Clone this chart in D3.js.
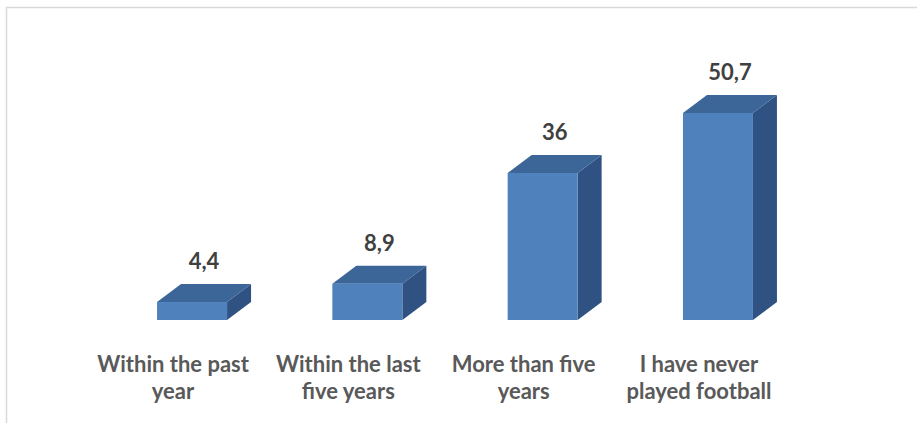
<!DOCTYPE html>
<html>
<head>
<meta charset="utf-8">
<script src="https://cdn.jsdelivr.net/npm/d3@7"></script>
<style>
  html, body { margin: 0; padding: 0; background: #fff; }
  svg { display: block; }
</style>
</head>
<body>
<svg id="chart" width="917" height="423"></svg>
<script>
// Share of respondents by when they last played football (%)
const categories = [
  "Within the past year",
  "Within the last five years",
  "More than five years",
  "I have never played football"
];
const values = [4.4, 8.9, 36, 50.7];
const valueLabels = ["4,4", "8,9", "36", "50,7"];

const W = 917, H = 423;
const svg = d3.select("#chart");
const font = "Lato, 'Open Sans', sans-serif";

// outer frame
svg.append("rect")
  .attr("x", 6.5).attr("y", 7.5)
  .attr("width", 930).attr("height", 440)
  .attr("fill", "none").attr("stroke", "#d9d9d9").attr("stroke-width", 1.5);

const baseY = 320;
const x = d3.scaleBand().domain(categories).range([85.4, 786.6]).padding(0);
const y = d3.scaleLinear().domain([0, 50.7]).range([baseY, 113]);

const barW = 70;          // front face width
const dx = 24, dy = 18;   // depth offset of the box
const frontShift = -16;   // front face left edge relative to band centre

const colFront = "#4f81bd", colTop = "#3c6697", colSide = "#2f5282";

const bars = svg.append("g").selectAll("g")
  .data(categories.map((c, i) => ({ c, v: values[i], label: valueLabels[i] })))
  .join("g");

bars.each(function(d) {
  const g = d3.select(this);
  const cx = x(d.c) + x.bandwidth() / 2;
  const x0 = cx + frontShift, x1 = x0 + barW;
  const yT = y(d.v), yB = y(0);
  // side face
  g.append("path")
    .attr("d", `M${x1},${yT} L${x1 + dx},${yT - dy} L${x1 + dx},${yB - dy} L${x1},${yB} Z`)
    .attr("fill", colSide);
  // top face
  g.append("path")
    .attr("d", `M${x0},${yT} L${x0 + dx},${yT - dy} L${x1 + dx},${yT - dy} L${x1},${yT} Z`)
    .attr("fill", colTop);
  // front face
  g.append("rect")
    .attr("x", x0).attr("y", yT)
    .attr("width", barW).attr("height", yB - yT)
    .attr("fill", colFront);
  // value label centred over the top face
  g.append("text")
    .attr("x", (x0 + x1) / 2 + dx / 2)
    .attr("y", yT - dy - 15)
    .attr("text-anchor", "middle")
    .attr("font-family", font)
    .attr("font-weight", 700)
    .attr("font-size", 22)
    .attr("fill", "#404040")
    .text(d.label);
});

// category axis (no line, no ticks), labels wrapped onto two lines
const axis = svg.append("g")
  .attr("transform", `translate(0,${baseY})`)
  .call(d3.axisBottom(x).tickSize(0).tickPadding(0));
axis.select(".domain").remove();

axis.selectAll(".tick text")
  .attr("font-family", font)
  .attr("font-weight", 700)
  .attr("font-size", 22)
  .attr("fill", "#595959")
  .attr("dy", null)
  .attr("y", 0)
  .each(function() {
    const t = d3.select(this);
    const words = t.text().split(" ");
    t.text(null);
    const maxW = 175;
    let lines = [], cur = [];
    let tsp = t.append("tspan");
    for (const w of words) {
      cur.push(w);
      tsp.text(cur.join(" "));
      if (tsp.node().getComputedTextLength() > maxW && cur.length > 1) {
        cur.pop();
        lines.push(cur.join(" "));
        cur = [w];
      }
    }
    lines.push(cur.join(" "));
    t.text(null);
    lines.forEach((ln, i) => {
      t.append("tspan").attr("x", 0).attr("y", 52 + i * 27).text(ln);
    });
  });
</script>
</body>
</html>
